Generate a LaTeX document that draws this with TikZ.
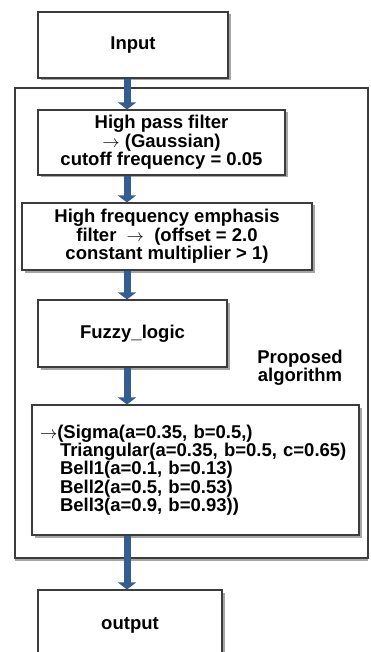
\documentclass[tikz,border=0pt]{standalone}
\usepackage{fontspec}
\setmainfont{Liberation Sans}
\usetikzlibrary{arrows.meta,shadows}
\definecolor{arrowblue}{RGB}{52,93,145}
\definecolor{edgegray}{RGB}{60,60,60}
\begin{document}
\begin{tikzpicture}[x=1pt,y=-1pt,
  txt/.style={font=\fontsize{18.5}{18.3}\selectfont\bfseries},
  box/.style={txt, draw=edgegray, line width=1.1pt, fill=white,
    drop shadow={shadow xshift=2.5pt, shadow yshift=-2.5pt, fill=black, opacity=0.35},
    align=center, inner sep=0pt, anchor=center},
  framebox/.style={draw=edgegray, line width=1.1pt, fill=white,
    drop shadow={shadow xshift=0pt, shadow yshift=-2.5pt, fill=black, opacity=0.35}},
  flow/.style={draw=arrowblue, line width=7pt, -{Triangle[width=18pt,length=7pt]}}]
\useasboundingbox (0,0) rectangle (370,652);
\clip (0,0) rectangle (370,652);
\node[framebox, minimum width=353pt, minimum height=470pt] (frame) at (191.5,323) {};
\node[box, minimum width=190pt, minimum height=66pt] (input) at (133,45) {Input};
\node[box, minimum width=247pt, minimum height=65pt] (hpf) at (161.5,142.5)
  {High pass filter\\$\rightarrow$ (Gaussian)\\cutoff frequency = 0.05};
\node[box, minimum width=290pt, minimum height=67pt] (hfe) at (167,236.5)
  {High frequency emphasis\\filter~~$\rightarrow$~~(offset = 2.0\\constant multiplier > 1)};
\node[box, minimum width=189pt, minimum height=67pt] (fuzzy) at (132.5,333.5) {Fuzzy\_logic};
\node[txt, align=center] (prop) at (300,368) {Proposed\\algorithm};
\node[box, align=left, text width=311pt, inner xsep=8pt, minimum height=130pt] (alg) at (195.5,470)
  {$\rightarrow$(Sigma(a=0.35, b=0.5,)\\
   \hspace*{20pt}Triangular(a=0.35, b=0.5, c=0.65)\\
   \hspace*{20pt}Bell1(a=0.1, b=0.13)\\
   \hspace*{20pt}Bell2(a=0.5, b=0.53)\\
   \hspace*{20pt}Bell3(a=0.9, b=0.93))};
\node[box, minimum width=184pt, minimum height=70pt] (output) at (130,625) {output};
\coordinate (ax) at (127,0);
\draw[flow] (input.south -| ax) -- (hpf.north -| ax);
\draw[flow] (hpf.south -| ax) -- (hfe.north -| ax);
\draw[flow] (hfe.south -| ax) -- (fuzzy.north -| ax);
\draw[flow] (fuzzy.south -| ax) -- (alg.north -| ax);
\draw[flow] (alg.south -| ax) -- (output.north -| ax);
\end{tikzpicture}
\end{document}
